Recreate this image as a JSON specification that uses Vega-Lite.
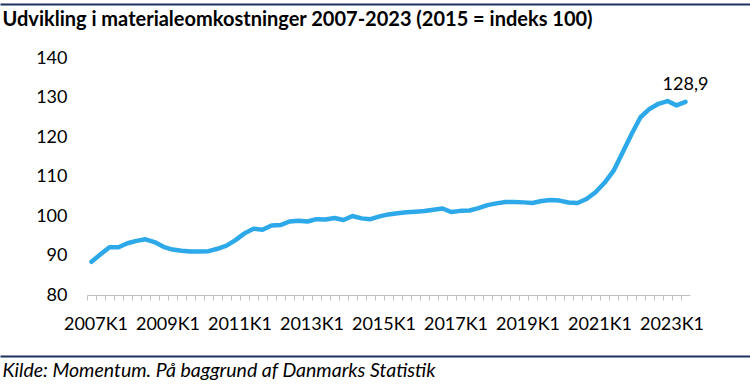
{
  "$schema": "https://vega.github.io/schema/vega-lite/v6.json",
  "padding": {"left": 0, "top": 3, "right": 0, "bottom": 0},
  "background": "white",
  "width": 603,
  "height": 237,
  "config": {
    "font": "Lato",
    "view": {"stroke": null},
    "locale": {"number": {"decimal": ",", "thousands": ".", "grouping": [3], "currency": ["", " kr."]}}
  },
  "data": {
    "values": [
      {"kvartal": "2007K1", "indeks": 88.4}, {"kvartal": "2007K2", "indeks": 90.3}, {"kvartal": "2007K3", "indeks": 92.1}, {"kvartal": "2007K4", "indeks": 92.1},
      {"kvartal": "2008K1", "indeks": 93.1}, {"kvartal": "2008K2", "indeks": 93.7}, {"kvartal": "2008K3", "indeks": 94.1}, {"kvartal": "2008K4", "indeks": 93.4},
      {"kvartal": "2009K1", "indeks": 92.2}, {"kvartal": "2009K2", "indeks": 91.5}, {"kvartal": "2009K3", "indeks": 91.2}, {"kvartal": "2009K4", "indeks": 91.0},
      {"kvartal": "2010K1", "indeks": 91.0}, {"kvartal": "2010K2", "indeks": 91.1}, {"kvartal": "2010K3", "indeks": 91.7}, {"kvartal": "2010K4", "indeks": 92.5},
      {"kvartal": "2011K1", "indeks": 93.9}, {"kvartal": "2011K2", "indeks": 95.6}, {"kvartal": "2011K3", "indeks": 96.8}, {"kvartal": "2011K4", "indeks": 96.5},
      {"kvartal": "2012K1", "indeks": 97.6}, {"kvartal": "2012K2", "indeks": 97.7}, {"kvartal": "2012K3", "indeks": 98.6}, {"kvartal": "2012K4", "indeks": 98.8},
      {"kvartal": "2013K1", "indeks": 98.6}, {"kvartal": "2013K2", "indeks": 99.2}, {"kvartal": "2013K3", "indeks": 99.1}, {"kvartal": "2013K4", "indeks": 99.5},
      {"kvartal": "2014K1", "indeks": 99.0}, {"kvartal": "2014K2", "indeks": 100.0}, {"kvartal": "2014K3", "indeks": 99.4}, {"kvartal": "2014K4", "indeks": 99.2},
      {"kvartal": "2015K1", "indeks": 99.9}, {"kvartal": "2015K2", "indeks": 100.4}, {"kvartal": "2015K3", "indeks": 100.7}, {"kvartal": "2015K4", "indeks": 100.95},
      {"kvartal": "2016K1", "indeks": 101.1}, {"kvartal": "2016K2", "indeks": 101.25}, {"kvartal": "2016K3", "indeks": 101.6}, {"kvartal": "2016K4", "indeks": 101.9},
      {"kvartal": "2017K1", "indeks": 101.0}, {"kvartal": "2017K2", "indeks": 101.3}, {"kvartal": "2017K3", "indeks": 101.4}, {"kvartal": "2017K4", "indeks": 102.0},
      {"kvartal": "2018K1", "indeks": 102.75}, {"kvartal": "2018K2", "indeks": 103.2}, {"kvartal": "2018K3", "indeks": 103.55}, {"kvartal": "2018K4", "indeks": 103.55},
      {"kvartal": "2019K1", "indeks": 103.45}, {"kvartal": "2019K2", "indeks": 103.3}, {"kvartal": "2019K3", "indeks": 103.8}, {"kvartal": "2019K4", "indeks": 104.05},
      {"kvartal": "2020K1", "indeks": 103.9}, {"kvartal": "2020K2", "indeks": 103.4}, {"kvartal": "2020K3", "indeks": 103.3}, {"kvartal": "2020K4", "indeks": 104.3},
      {"kvartal": "2021K1", "indeks": 106.0}, {"kvartal": "2021K2", "indeks": 108.4}, {"kvartal": "2021K3", "indeks": 111.4}, {"kvartal": "2021K4", "indeks": 116.0},
      {"kvartal": "2022K1", "indeks": 120.7}, {"kvartal": "2022K2", "indeks": 125.0}, {"kvartal": "2022K3", "indeks": 127.1}, {"kvartal": "2022K4", "indeks": 128.4},
      {"kvartal": "2023K1", "indeks": 129.1}, {"kvartal": "2023K2", "indeks": 128.0}, {"kvartal": "2023K3", "indeks": 128.9}
    ]
  },
  "layer": [
    {
      "encoding": {
        "x": {
          "field": "kvartal",
          "type": "ordinal",
          "sort": null,
          "scale": {"type": "band", "paddingInner": 0, "paddingOuter": 0},
          "axis": {
            "title": null,
            "bandPosition": 0,
            "labelOffset": 4.5,
            "tickSize": 5,
            "tickColor": "#BFBFBF",
            "domainColor": "#BFBFBF",
            "labelAngle": 0,
            "labelFontSize": 18,
            "labelColor": "black",
            "labelPadding": 15,
            "labelOverlap": false,
            "labelExpr": "(substring(datum.value, 4) == 'K1' && toNumber(substring(datum.value, 0, 4)) % 2 == 1) ? datum.value : ''",
            "grid": false
          }
        },
        "y": {
          "field": "indeks",
          "type": "quantitative",
          "scale": {"domain": [80, 140], "nice": false, "zero": false},
          "axis": {
            "title": null,
            "values": [80, 90, 100, 110, 120, 130, 140],
            "domain": false,
            "ticks": false,
            "grid": false,
            "labelFontSize": 18,
            "labelColor": "black",
            "labelPadding": 20
          }
        }
      },
      "layer": [
        {
          "mark": {"type": "line", "color": "#2DA9EA", "strokeWidth": 4.5, "strokeCap": "round", "strokeJoin": "round"}
        },
        {
          "transform": [{"filter": "datum.kvartal == '2023K3'"}],
          "mark": {"type": "text", "dy": -17, "fontSize": 18, "color": "black", "baseline": "middle"},
          "encoding": {"text": {"field": "indeks", "type": "quantitative", "format": ".1f"}}
        }
      ]
    },
    {
      "mark": {"type": "point", "opacity": 0, "size": 0},
      "encoding": {
        "x": {
          "field": "indeks",
          "type": "quantitative",
          "scale": {"range": [-87, 663], "zero": false, "nice": false},
          "axis": {
            "orient": "top",
            "offset": 54,
            "domain": true,
            "domainColor": "#1F2F5E",
            "domainWidth": 2,
            "ticks": true,
            "tickSize": 0,
            "tickColor": "white",
            "labels": true,
            "labelFontSize": 1,
            "labelColor": "white",
            "labelPadding": 0,
            "grid": false,
            "title": "Udvikling i materialeomkostninger 2007-2023 (2015 = indeks 100)",
            "titleAnchor": "start",
            "titleAlign": "left",
            "titleBaseline": "top",
            "titleX": -85,
            "titleY": 5,
            "titleFontSize": 20,
            "titleFontWeight": "bold",
            "titleColor": "black",
            "titleFont": "Lato",
            "titlePadding": 0
          }
        }
      }
    },
    {
      "mark": {"type": "point", "opacity": 0, "size": 0},
      "encoding": {
        "x": {
          "field": "indeks",
          "type": "quantitative",
          "scale": {"range": [-87, 663], "zero": false, "nice": false},
          "axis": {
            "orient": "bottom",
            "offset": 61,
            "domain": true,
            "domainColor": "#1F2F5E",
            "domainWidth": 2,
            "ticks": true,
            "tickSize": 0,
            "tickColor": "white",
            "labels": true,
            "labelFontSize": 1,
            "labelColor": "white",
            "labelPadding": 0,
            "grid": false,
            "title": "Kilde: Momentum. På baggrund af Danmarks Statistik",
            "titleAnchor": "start",
            "titleAlign": "left",
            "titleBaseline": "top",
            "titleX": -85,
            "titleY": 5,
            "titleFontSize": 19.5,
            "titleFontWeight": "normal",
            "titleFontStyle": "italic",
            "titleColor": "black",
            "titleFont": "Lato",
            "titlePadding": 0
          }
        }
      }
    }
  ],
  "resolve": {"scale": {"x": "independent"}, "axis": {"x": "independent"}}
}
